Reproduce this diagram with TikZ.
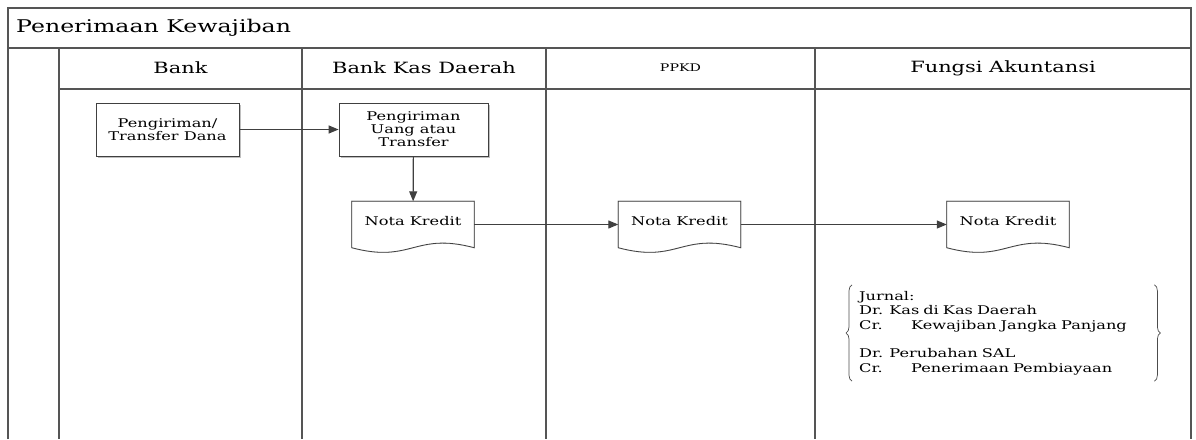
\documentclass[tikz,border=0pt]{standalone}
\usepackage{fontspec}
\setmainfont{DejaVu Serif}[FakeStretch=1.35]
\usetikzlibrary{arrows.meta}
\usetikzlibrary{shadows}
\usetikzlibrary{decorations.pathreplacing}

\definecolor{laneline}{HTML}{555555}
\definecolor{flowline}{HTML}{404040}

% wavy document outline around a node
\newcommand{\docoutline}[1]{%
  \draw[black!25, line width=1.2pt, shift={(1.5,1.5)}]
    (#1.south west) -- (#1.north west) -- (#1.north east) -- (#1.south east)
    .. controls +(-60,-16) and +(60,16) .. (#1.south west);
  \draw[flowline, line width=.8pt, fill=white]
    (#1.south west) -- (#1.north west) -- (#1.north east) -- (#1.south east)
    .. controls +(-60,-16) and +(60,16) .. (#1.south west) -- cycle;
  \node at ([yshift=3pt]#1.center) {\fontsize{12}{13}\selectfont Nota Kredit};
}

\begin{document}
\begin{tikzpicture}[x=1pt, y=-1pt,
    every node/.append style={inner sep=2pt, text=black},
    lanehead/.style={font=\fontsize{15.5}{17}\selectfont},
    procbox/.style={draw=flowline, line width=.8pt, fill=white, align=center,
      minimum height=53pt, font=\fontsize{12}{13}\selectfont,
      drop shadow={shadow xshift=1.5pt, shadow yshift=-1.5pt, fill=black!25, opacity=1}},
    notadoc/.style={minimum width=122pt, minimum height=46pt},
    flow/.style={flowline, line width=1.2pt, -{Triangle[length=10pt, width=8pt]}},
    kurung/.style={black!70, line width=.7pt, decorate, decoration={brace, amplitude=6pt}}]
    \useasboundingbox (0,0) rectangle (1196,439);
    % swimlane frame
    \coordinate (TL) at (8,8);
    \coordinate (TR) at (1191,8);
    \draw[laneline, line width=1.4pt] (8,439) -- (TL) -- (TR) -- (1191,439);
    \draw[laneline, line width=1.4pt] (8,48) -- (1191,48) (59,89) -- (1191,89);
    \foreach \x in {59, 302, 546, 815}
      \draw[laneline, line width=1.4pt] (\x,48) -- (\x,439);
    \node[anchor=west, font=\fontsize{17.5}{19}\selectfont] (judul) at (14,28) {Penerimaan Kewajiban};
    \node[lanehead] (hbank) at (180.5,68) {Bank};
    \node[lanehead] (hbkd) at (424,68) {Bank Kas Daerah};
    \node[font=\fontsize{10.5}{12}\selectfont] (hppkd) at (680.5,68) {PPKD};
    \node[lanehead] (hfa) at (1003,68) {Fungsi Akuntansi};
    % flow
    \node[procbox, minimum width=143pt] (kirim) at (167.5,129.5) {Pengiriman/\\Transfer Dana};
    \node[procbox, minimum width=149pt] (uang) at (413.5,129.5) {Pengiriman\\Uang atau\\Transfer};
    \node[notadoc] (nk1) at (413,224.5) {};
    \node[notadoc] (nk2) at (679.5,224.5) {};
    \node[notadoc] (nk3) at (1008,224.5) {};
    \docoutline{nk1}
    \docoutline{nk2}
    \docoutline{nk3}
    \draw[flow] (kirim) -- (uang);
    \draw[flow] (uang) -- (nk1);
    \draw[flow] (nk1) -- (nk2);
    \draw[flow] (nk2) -- (nk3);
    % jurnal
    \node[anchor=west, inner xsep=7pt, inner ysep=0pt, minimum height=96pt, text width=288pt,
      align=left, font=\fontsize{12}{14.4}\selectfont] (jurnal) at (852,333)
      {Jurnal:\\Dr. Kas di Kas Daerah\\\makebox[52pt][l]{Cr.}Kewajiban Jangka Panjang\\[14.4pt]
       Dr. Perubahan SAL\\\makebox[52pt][l]{Cr.}Penerimaan Pembiayaan};
    \draw[kurung] (jurnal.south west) -- (jurnal.north west);
    \draw[kurung] (jurnal.north east) -- (jurnal.south east);
  \end{tikzpicture}
\end{document}
